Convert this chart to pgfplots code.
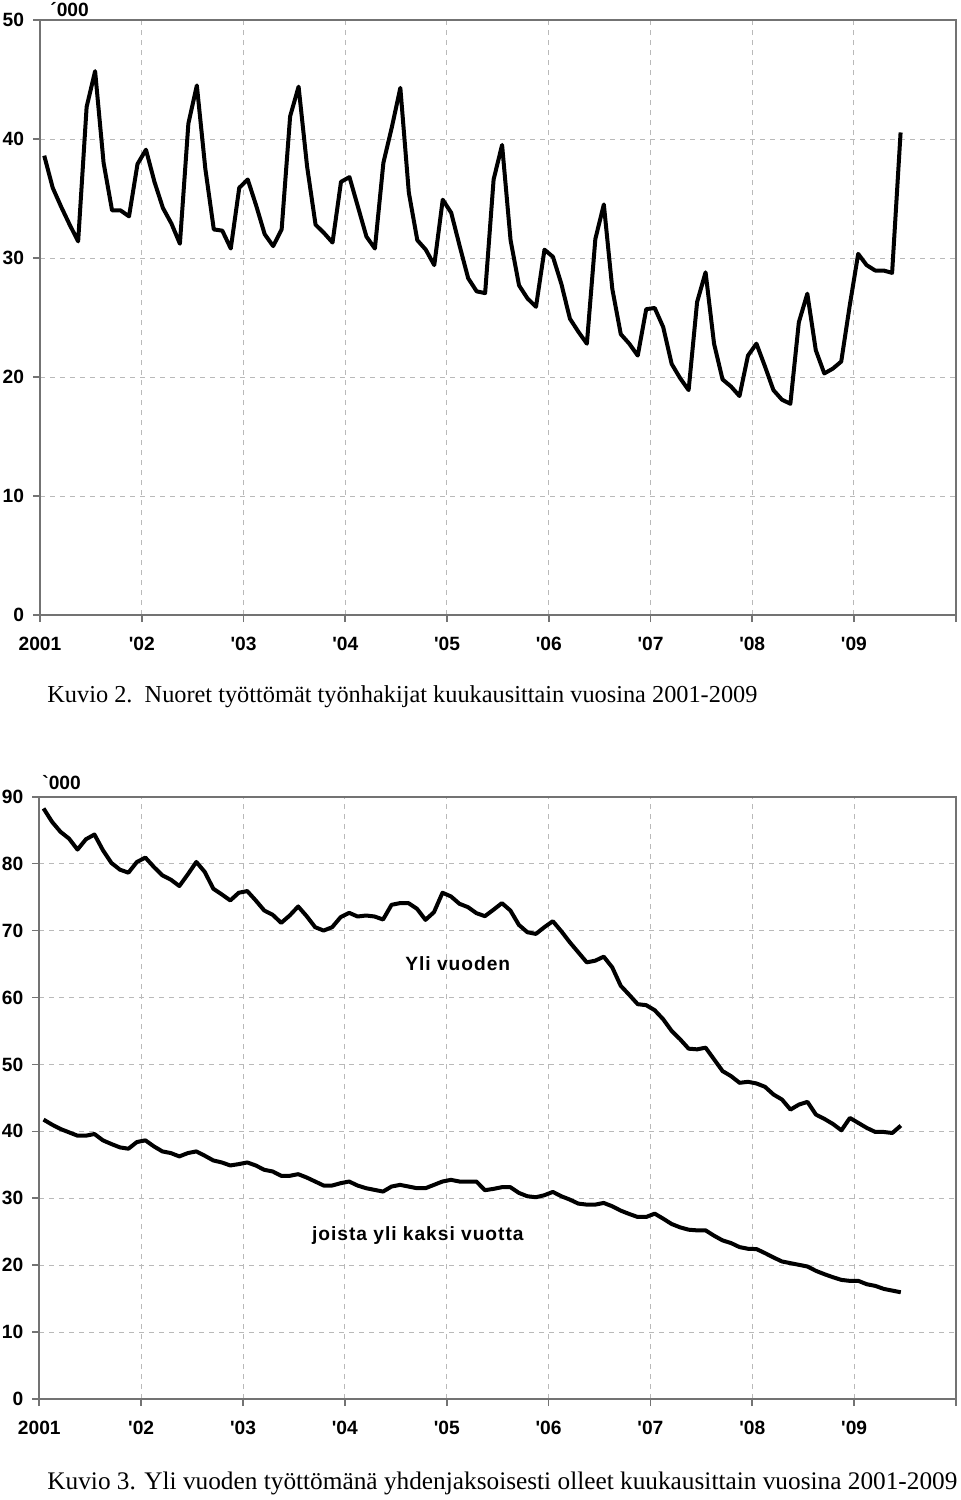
\documentclass[border=0pt]{standalone}
\usepackage{fontspec}
\newfontfamily\arial{Liberation Sans}
\newfontfamily\arialsp{Liberation Sans}[LetterSpace=5]
\newfontfamily\tnr{Liberation Serif}
\usepackage{graphicx}
\usepackage{pgfplots}
\usepackage{pgfplotstable}
\pgfplotsset{compat=1.18}

\pgfplotstableread{
i v
0 38.6
1 35.9
2 34.3
3 32.8
4 31.4
5 42.7
6 45.7
7 38.0
8 34.0
9 34.0
10 33.5
11 37.9
12 39.1
13 36.4
14 34.2
15 32.9
16 31.2
17 41.3
18 44.5
19 37.5
20 32.4
21 32.3
22 30.8
23 35.9
24 36.6
25 34.4
26 32.0
27 31.0
28 32.4
29 41.9
30 44.4
31 37.7
32 32.8
33 32.1
34 31.3
35 36.4
36 36.8
37 34.3
38 31.8
39 30.8
40 38.0
41 41.0
42 44.3
43 35.5
44 31.5
45 30.7
46 29.4
47 34.9
48 33.8
49 31.0
50 28.3
51 27.2
52 27.05
53 36.6
54 39.5
55 31.5
56 27.7
57 26.6
58 25.9
59 30.7
60 30.1
61 27.8
62 24.9
63 23.8
64 22.8
65 31.6
66 34.5
67 27.4
68 23.6
69 22.8
70 21.8
71 25.7
72 25.8
73 24.2
74 21.1
75 19.9
76 18.9
77 26.3
78 28.8
79 22.8
80 19.8
81 19.2
82 18.4
83 21.8
84 22.8
85 20.9
86 18.9
87 18.1
88 17.75
89 24.6
90 27.0
91 22.25
92 20.3
93 20.7
94 21.3
95 26.0
96 30.35
97 29.4
98 28.95
99 28.95
100 28.75
101 40.55
}\nuoret

\pgfplotstableread{
i v
0 88.25
1 86.25
2 84.75
3 83.75
4 82.1
5 83.65
6 84.35
7 82.0
8 80.1
9 79.1
10 78.65
11 80.25
12 80.9
13 79.5
14 78.25
15 77.6
16 76.65
17 78.4
18 80.25
19 78.75
20 76.25
21 75.4
22 74.5
23 75.65
24 75.9
25 74.5
26 73.0
27 72.35
28 71.15
29 72.25
30 73.6
31 72.15
32 70.5
33 70.0
34 70.5
35 72.0
36 72.65
37 72.1
38 72.25
39 72.1
40 71.65
41 73.85
42 74.1
43 74.1
44 73.25
45 71.6
46 72.75
47 75.65
48 75.1
49 74.0
50 73.5
51 72.6
52 72.15
53 73.1
54 74.1
55 73.0
56 70.85
57 69.75
58 69.5
59 70.5
60 71.4
61 69.9
62 68.25
63 66.75
64 65.25
65 65.5
66 66.1
67 64.5
68 61.75
69 60.4
70 59.0
71 58.85
72 58.1
73 56.75
74 55.0
75 53.75
76 52.35
77 52.25
78 52.5
79 50.75
80 49.0
81 48.25
82 47.25
83 47.4
84 47.15
85 46.65
86 45.5
87 44.75
88 43.25
89 44.0
90 44.4
91 42.5
92 41.85
93 41.1
94 40.15
95 42.0
96 41.25
97 40.5
98 39.9
99 39.9
100 39.75
101 40.85
}\ylivuoden

\pgfplotstableread{
i v
0 41.75
1 41.0
2 40.35
3 39.85
4 39.35
5 39.35
6 39.6
7 38.65
8 38.1
9 37.6
10 37.4
11 38.4
12 38.65
13 37.75
14 37.0
15 36.75
16 36.25
17 36.75
18 37.0
19 36.35
20 35.65
21 35.35
22 34.9
23 35.1
24 35.35
25 34.9
26 34.25
27 34.0
28 33.35
29 33.35
30 33.6
31 33.1
32 32.5
33 31.9
34 31.9
35 32.25
36 32.5
37 31.9
38 31.5
39 31.25
40 31.0
41 31.75
42 32.0
43 31.75
44 31.5
45 31.5
46 32.0
47 32.5
48 32.75
49 32.5
50 32.5
51 32.5
52 31.2
53 31.4
54 31.65
55 31.65
56 30.8
57 30.3
58 30.15
59 30.45
60 30.95
61 30.3
62 29.8
63 29.2
64 29.05
65 29.05
66 29.3
67 28.8
68 28.15
69 27.65
70 27.2
71 27.2
72 27.7
73 26.95
74 26.15
75 25.65
76 25.3
77 25.2
78 25.2
79 24.4
80 23.7
81 23.3
82 22.7
83 22.45
84 22.4
85 21.8
86 21.15
87 20.55
88 20.3
89 20.05
90 19.8
91 19.15
92 18.65
93 18.2
94 17.8
95 17.65
96 17.65
97 17.15
98 16.9
99 16.45
100 16.2
101 15.95
}\kaksi

\pgfplotsset{
  kuvio/.style={
    scale only axis,
    anchor=south west,
    xmin=0, xmax=108,
    xtick={0,12,...,108},
    xticklabels={2001,'02,'03,'04,'05,'06,'07,'08,'09,{}},
    ymin=0,
    axis line style={draw=gray!90!black, line width=0.8pt},
    tick style={draw=gray!90!black, line width=0.8pt},
    tick align=outside,
    major tick length=3.5pt,
    xtick pos=bottom, ytick pos=left,
    grid=major,
    major grid style={draw=gray!55, line width=0.5pt, dash pattern=on 2.5pt off 2.5pt},
    ticklabel style={font=\arial\bfseries\fontsize{9.6}{11}\selectfont},
    /pgf/number format/assume math mode=true,
    xticklabel style={yshift=-4pt},
    yticklabel style={xshift=-1pt},
    clip=false,
  },
  serie/.style={black, line width=2pt, line join=round, no markers},
}

\begin{document}
\begin{tikzpicture}
\path[use as bounding box] (0,0) rectangle (480pt,-750pt);

% top chart
\begin{axis}[kuvio,
  at={(20pt,-307.5pt)},
  width=457.85pt, height=297.5pt,
  ymax=50, ytick={0,10,...,50}]
  \addplot[serie] table[x expr=\thisrow{i}+0.5, y=v] {\nuoret};
\end{axis}
\node[anchor=west, inner sep=0pt, font=\arial\bfseries\fontsize{9.6}{11}\selectfont] at (25pt,-5pt) {´000};
\node[anchor=west, inner sep=0pt, font=\tnr\fontsize{11.5}{13}\selectfont] at (23.5pt,-348.5pt) {\resizebox{355pt}{!}{Kuvio 2.\ \ Nuoret työttömät työnhakijat kuukausittain vuosina 2001-2009}};

% bottom chart
\begin{axis}[kuvio,
  at={(19.65pt,-699.5pt)},
  width=458.35pt, height=301.15pt,
  ymax=90, ytick={0,10,...,90}]
  \addplot[serie] table[x expr=\thisrow{i}+0.5, y=v] {\ylivuoden};
  \addplot[serie] table[x expr=\thisrow{i}+0.5, y=v] {\kaksi};
  \node[font=\arialsp\bfseries\fontsize{9.6}{11}\selectfont] at (axis cs:49.3,65.1) {Yli vuoden};
  \node[font=\arialsp\bfseries\fontsize{9.6}{11}\selectfont] at (axis cs:44.6,24.5) {joista yli kaksi vuotta};
\end{axis}
\node[anchor=west, inner sep=0pt, font=\arial\bfseries\fontsize{9.6}{11}\selectfont] at (21pt,-391.5pt) {`000};
\node[anchor=west, inner sep=0pt, font=\tnr\fontsize{11.5}{13}\selectfont] at (23.5pt,-741.5pt) {\resizebox{455pt}{!}{Kuvio 3. Yli vuoden työttömänä yhdenjaksoisesti olleet kuukausittain vuosina 2001-2009}};
\end{tikzpicture}
\end{document}
